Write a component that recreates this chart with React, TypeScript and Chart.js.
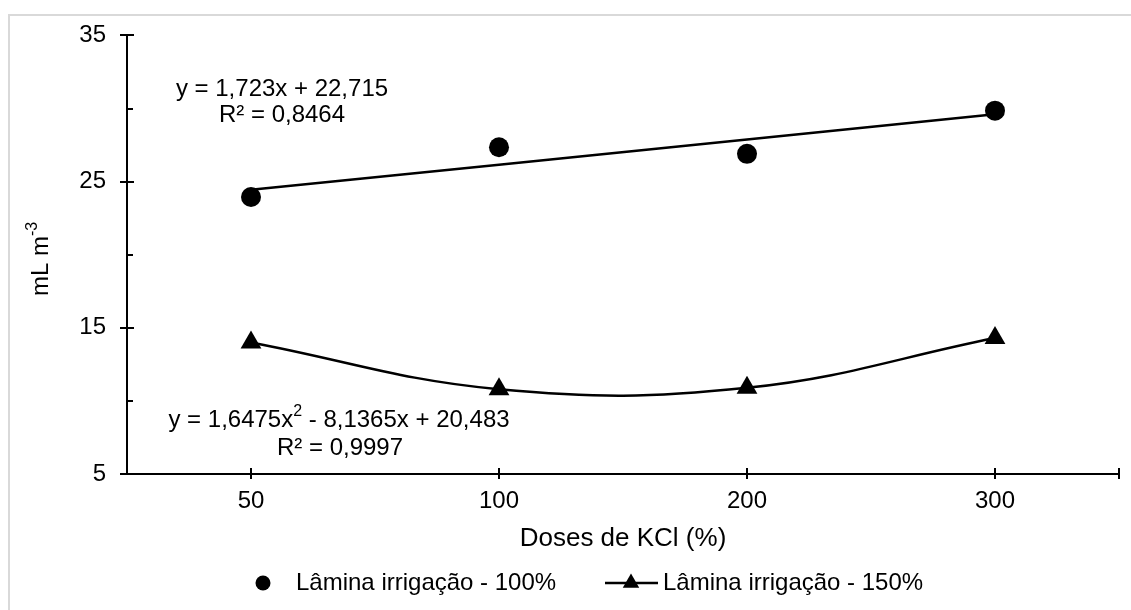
import React, { useEffect, useRef } from 'react';
import { Chart, registerables } from 'chart.js';

Chart.register(...registerables);

// ---- data ----
const doses = ['50', '100', '200', '300'];
const dosePositions = [1, 2, 3, 4];
const lamina100 = [23.95, 27.35, 26.9, 29.85];
const trend100 = [24.44, 26.16, 27.88, 29.61];
const lamina150 = [14.0, 10.8, 10.9, 14.3];
const yTicks = [5, 15, 25, 35];
const yMinorTicks = [10, 20, 30];
const xTickPositions = [1, 2, 3, 4, 4.5];
const seriesLabels = ['Lâmina irrigação - 100%', 'Lâmina irrigação - 150%'];
const eq100Lines = ['y = 1,723x + 22,715', 'R² = 0,8464'];
const eq150Parts = ['y = 1,6475x', '2', ' - 8,1365x + 20,483'];
const eq150R2 = 'R² = 0,9997';
const xTitle = 'Doses de KCl (%)';
const yTitleParts = ['mL m', '-3'];

const FONT = '"Liberation Sans", Arial, Helvetica, sans-serif';
const f = (s: number) => `${s}px ${FONT}`;

const customPlugin = {
  id: 'custom',
  beforeDraw(chart: any) {
    const ctx = chart.ctx;
    ctx.save();
    ctx.strokeStyle = '#d9d9d9';
    ctx.lineWidth = 2;
    ctx.beginPath();
    ctx.moveTo(9, 610);
    ctx.lineTo(9, 15);
    ctx.lineTo(1131, 15);
    ctx.stroke();
    ctx.restore();
  },
  afterDraw(chart: any) {
    const ctx = chart.ctx;
    const xs = chart.scales.x;
    const ys = chart.scales.y;
    const ax = xs.getPixelForValue(0.5);
    const ay = ys.getPixelForValue(5);
    ctx.save();
    ctx.strokeStyle = '#000';
    ctx.lineWidth = 2;
    ctx.beginPath();
    yTicks.forEach((v) => {
      const p = Math.round(ys.getPixelForValue(v));
      ctx.moveTo(ax - 7, p);
      ctx.lineTo(ax + 7, p);
    });
    yMinorTicks.forEach((v) => {
      const p = Math.round(ys.getPixelForValue(v));
      ctx.moveTo(ax, p);
      ctx.lineTo(ax + 6, p);
    });
    xTickPositions.forEach((v) => {
      const p = Math.round(xs.getPixelForValue(v));
      ctx.moveTo(p, ay - 6);
      ctx.lineTo(p, ay + 5);
    });
    ctx.stroke();

    ctx.fillStyle = '#000';
    ctx.textBaseline = 'middle';

    // equation 100%
    ctx.font = f(24);
    ctx.textAlign = 'center';
    ctx.fillText(eq100Lines[0], 282, 89);
    ctx.fillText(eq100Lines[1], 282, 115);

    // equation 150% with superscript
    ctx.textAlign = 'left';
    ctx.font = f(24);
    const w0 = ctx.measureText(eq150Parts[0]).width;
    const w2 = ctx.measureText(eq150Parts[2]).width;
    ctx.font = f(16);
    const w1 = ctx.measureText(eq150Parts[1]).width;
    const total = w0 + w1 + w2;
    const sx = 339 - total / 2;
    ctx.font = f(24);
    ctx.fillText(eq150Parts[0], sx, 420);
    ctx.font = f(16);
    ctx.fillText(eq150Parts[1], sx + w0, 412);
    ctx.font = f(24);
    ctx.fillText(eq150Parts[2], sx + w0 + w1, 420);
    ctx.textAlign = 'center';
    ctx.fillText(eq150R2, 340, 448);

    // y title rotated
    ctx.save();
    ctx.translate(41, 259);
    ctx.rotate(-Math.PI / 2);
    ctx.textAlign = 'left';
    ctx.font = f(24);
    const tw0 = ctx.measureText(yTitleParts[0]).width;
    ctx.font = f(16);
    const tw1 = ctx.measureText(yTitleParts[1]).width;
    const tx = -(tw0 + tw1) / 2;
    ctx.font = f(24);
    ctx.fillText(yTitleParts[0], tx, 0);
    ctx.font = f(16);
    ctx.fillText(yTitleParts[1], tx + tw0, -8);
    ctx.restore();

    // legend
    const ly = 583;
    ctx.beginPath();
    ctx.arc(263, ly, 7.5, 0, Math.PI * 2);
    ctx.fill();
    ctx.font = f(24);
    ctx.textAlign = 'left';
    ctx.fillText(seriesLabels[0], 296, ly);
    ctx.lineWidth = 2.5;
    ctx.beginPath();
    ctx.moveTo(605, ly);
    ctx.lineTo(658, ly);
    ctx.stroke();
    const r = 9.5;
    ctx.beginPath();
    ctx.moveTo(631, ly - r);
    ctx.lineTo(631 + r * Math.sin((2 * Math.PI) / 3), ly - r * Math.cos((2 * Math.PI) / 3));
    ctx.lineTo(631 - r * Math.sin((2 * Math.PI) / 3), ly - r * Math.cos((2 * Math.PI) / 3));
    ctx.closePath();
    ctx.fill();
    ctx.fillText(seriesLabels[1], 663, ly);
    ctx.restore();
  },
};

export default function App() {
  const ref = useRef<HTMLCanvasElement | null>(null);
  useEffect(() => {
    if (!ref.current) return;
    const chart = new Chart(ref.current, {
      type: 'scatter',
      data: {
        datasets: [
          {
            label: seriesLabels[0],
            data: dosePositions.map((x, i) => ({ x, y: lamina100[i] })),
            showLine: false,
            pointStyle: 'circle',
            pointRadius: 10,
            pointBackgroundColor: '#000',
            pointBorderColor: '#000',
            pointBorderWidth: 0,
          },
          {
            label: 'trend100',
            data: dosePositions.map((x, i) => ({ x, y: trend100[i] })),
            showLine: true,
            borderColor: '#000',
            borderWidth: 2.5,
            pointRadius: 0,
          },
          {
            label: seriesLabels[1],
            data: dosePositions.map((x, i) => ({ x, y: lamina150[i] })),
            showLine: true,
            tension: 0.4,
            borderColor: '#000',
            borderWidth: 2.5,
            pointStyle: 'triangle',
            pointRadius: 12,
            pointBackgroundColor: '#000',
            pointBorderColor: '#000',
            pointBorderWidth: 0,
          },
        ],
      },
      options: {
        animation: false,
        responsive: false,
        devicePixelRatio: 1,
        layout: { padding: { top: 33, right: 6, left: 0, bottom: 0 } },
        plugins: { legend: { display: false }, tooltip: { enabled: false } },
        scales: {
          x: {
            type: 'linear',
            min: 0.5,
            max: 4.5,
            afterFit: (s: any) => {
              s.height = 136;
              s.paddingLeft = 0;
              s.paddingRight = 0;
            },
            afterBuildTicks: (s: any) => {
              s.ticks = [0.5, ...xTickPositions].map((v) => ({ value: v }));
            },
            ticks: {
              autoSkip: false,
              maxRotation: 0,
              padding: 13,
              color: '#000',
              font: { size: 24, family: FONT },
              callback: (v: any) => {
                const i = dosePositions.indexOf(Number(v));
                return i >= 0 ? doses[i] : '';
              },
            },
            grid: { display: false, drawTicks: false },
            border: { display: true, color: '#000', width: 2 },
            title: {
              display: true,
              text: xTitle,
              color: '#000',
              font: { size: 26, family: FONT },
              padding: { top: 0, bottom: 56 },
            },
          },
          y: {
            min: 5,
            max: 35,
            afterFit: (s: any) => {
              s.width = 127;
            },
            afterBuildTicks: (s: any) => {
              s.ticks = yTicks.map((v) => ({ value: v }));
            },
            ticks: {
              padding: 21,
              color: '#000',
              font: { size: 24, family: FONT },
            },
            grid: { display: false, drawTicks: false },
            border: { display: true, color: '#000', width: 2 },
          },
        },
      },
      plugins: [customPlugin],
    });
    return () => chart.destroy();
  }, []);
  return (
    <div style={{ position: 'absolute', left: 0, top: 0, width: 1131, height: 610, background: '#fff' }}>
      <canvas ref={ref} width={1131} height={610} style={{ display: 'block', width: 1131, height: 610 }} />
    </div>
  );
}
